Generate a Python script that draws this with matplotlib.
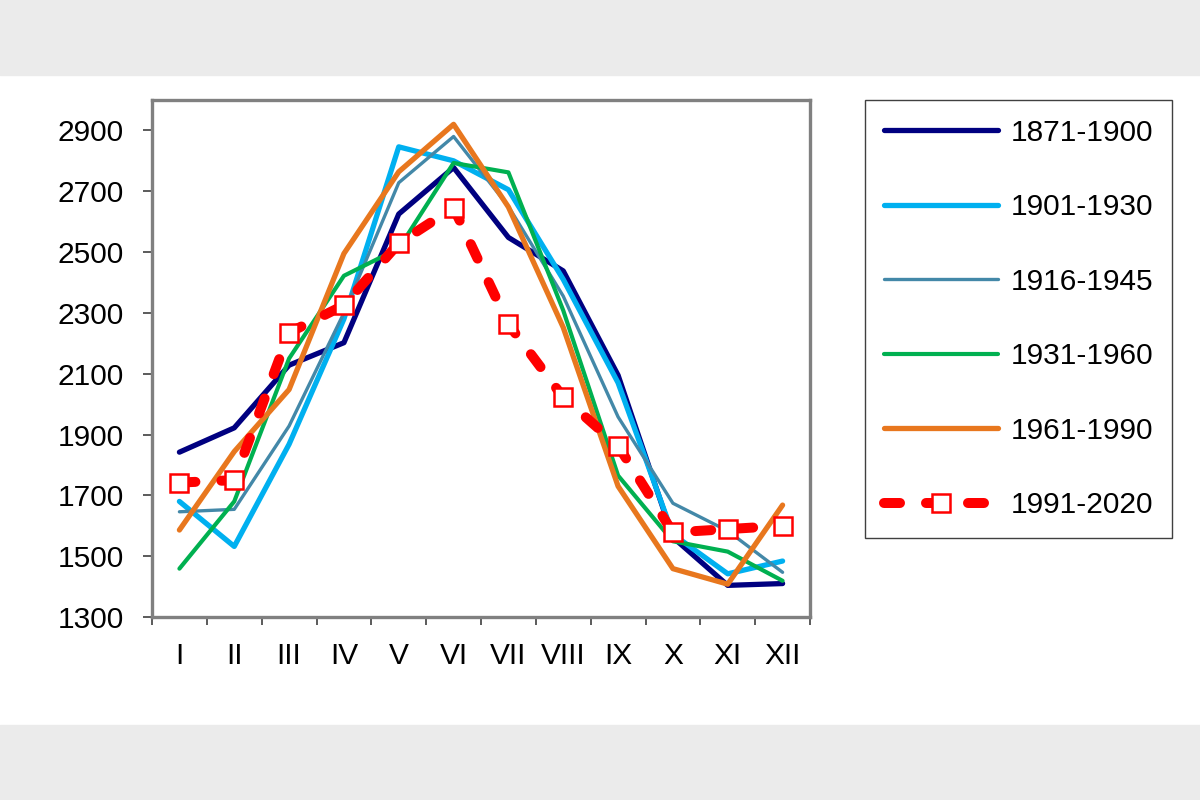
import matplotlib
matplotlib.use('Agg')
from matplotlib import pyplot as plt
from matplotlib.patches import Rectangle

months = ['I', 'II', 'III', 'IV', 'V', 'VI', 'VII', 'VIII', 'IX', 'X', 'XI', 'XII']
periods = ['1871-1900', '1901-1930', '1916-1945', '1931-1960', '1961-1990', '1991-2020']

v_1871_1900 = [1842, 1922, 2128, 2202, 2625, 2778, 2548, 2438, 2095, 1562, 1404, 1410]
v_1901_1930 = [1680, 1532, 1868, 2280, 2846, 2800, 2705, 2410, 2070, 1572, 1442, 1484]
v_1916_1945 = [1646, 1654, 1928, 2300, 2728, 2880, 2650, 2355, 1958, 1674, 1583, 1447]
v_1931_1960 = [1459, 1680, 2150, 2422, 2512, 2793, 2762, 2308, 1765, 1549, 1515, 1419]
v_1961_1990 = [1586, 1844, 2048, 2495, 2764, 2920, 2648, 2252, 1730, 1459, 1408, 1668]
v_1991_2020 = [1742, 1750, 2235, 2325, 2529, 2646, 2263, 2022, 1863, 1578, 1589, 1600]

yticks = [1300, 1500, 1700, 1900, 2100, 2300, 2500, 2700, 2900]


def main():
    plt.rcParams['font.family'] = ['Liberation Sans', 'DejaVu Sans']
    fig = plt.figure(figsize=(12, 8), dpi=100)
    # grey bands at top and bottom
    fig.patches.append(Rectangle((0, 1 - 75 / 800), 1, 75 / 800, transform=fig.transFigure,
                                 color='#ebebeb', zorder=0))
    fig.patches.append(Rectangle((0, 0), 1, 75 / 800, transform=fig.transFigure,
                                 color='#ebebeb', zorder=0))
    ax = fig.add_axes([152 / 1200, 1 - 617 / 800, (810 - 152) / 1200, (617 - 100) / 800])

    x = list(range(1, 13))
    ax.plot(x, v_1871_1900, color='#000080', lw=3.8, label=periods[0], solid_capstyle='round')
    ax.plot(x, v_1901_1930, color='#00b0f0', lw=3.8, label=periods[1], solid_capstyle='round')
    ax.plot(x, v_1916_1945, color='#4388a8', lw=2.4, label=periods[2], solid_capstyle='round')
    ax.plot(x, v_1931_1960, color='#00b050', lw=3.0, label=periods[3], solid_capstyle='round')
    ax.plot(x, v_1961_1990, color='#e8771e', lw=3.8, label=periods[4], solid_capstyle='round')
    ax.plot(x, v_1991_2020, color='#ff0000', lw=7.2, dashes=(1.6, 2.6), dash_capstyle='round',
            marker='s', ms=13, mfc='white', mec='#ff0000', mew=1.8, label=periods[5])

    ax.set_xlim(0.5, 12.5)
    ax.set_ylim(1300, 3000)
    ax.set_yticks(yticks)
    ax.set_xticks([i + 0.5 for i in range(0, 13)])
    ax.set_xticklabels([])
    ax.set_xticks(x, minor=True)
    ax.set_xticklabels(months, minor=True)
    ax.tick_params(axis='x', which='major', length=6, width=1.2, direction='out', color='#404040')
    ax.tick_params(axis='x', which='minor', length=0, pad=18, labelsize=21.5)
    ax.tick_params(axis='y', length=6.5, width=1.2, direction='out', pad=14, labelsize=21.5,
                   color='#404040')
    for s in ax.spines.values():
        s.set_color('#808080')
        s.set_linewidth(2.4)

    leg = ax.legend(loc='upper left', bbox_to_anchor=(865 / 1200, 1 - 100 / 800),
                    bbox_transform=fig.transFigure, borderaxespad=0, fontsize=21.5,
                    handlelength=3.85, handletextpad=0.4, labelspacing=1.56,
                    borderpad=0.62, fancybox=False, framealpha=1)
    leg.get_frame().set_edgecolor('#404040')
    leg.get_frame().set_linewidth(1.0)

    fig.savefig('out.png', dpi=100)


if __name__ == '__main__':
    main()
